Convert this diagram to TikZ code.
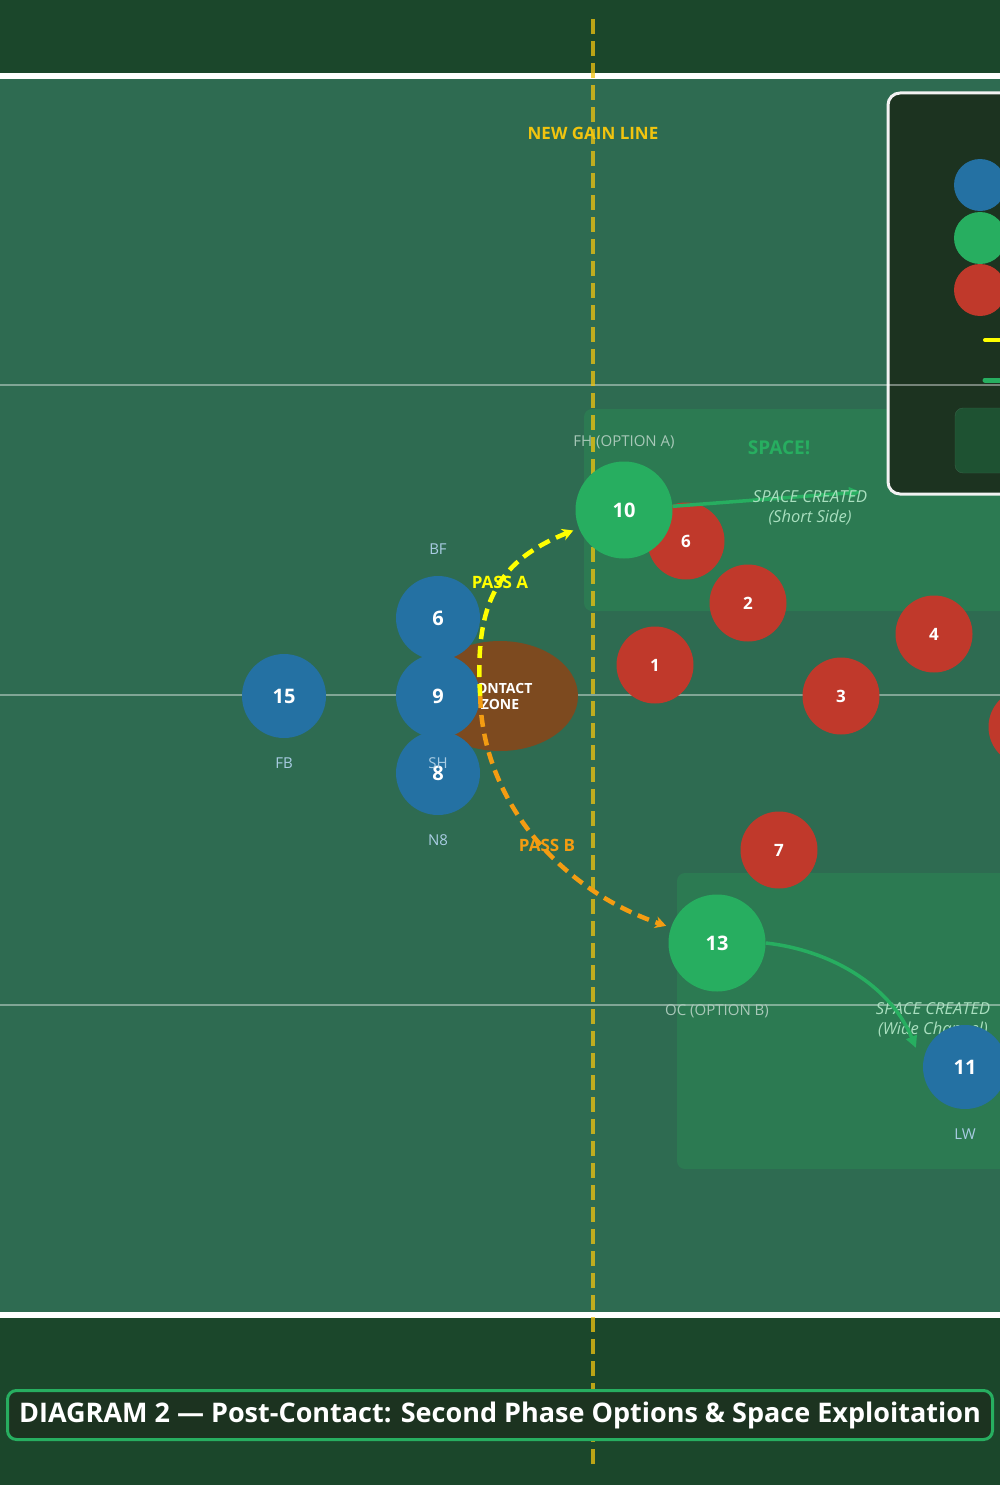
\documentclass[tikz,border=0pt]{standalone}
\usepackage{fontspec}
\setmainfont{Open Sans}
\usetikzlibrary{positioning,arrows.meta,shapes.geometric}

\definecolor{bandgreen}{HTML}{1B472B}
\definecolor{fieldgreen}{HTML}{2E6B51}
\definecolor{zonegreen}{HTML}{2C7A52}
\definecolor{attblue}{HTML}{2471A3}
\definecolor{optgreen}{HTML}{27AE60}
\definecolor{defred}{HTML}{C0392B}
\definecolor{gold}{HTML}{F1C40F}
\definecolor{passyellow}{HTML}{FFFF00}
\definecolor{passorange}{HTML}{F39C12}
\definecolor{contactbrown}{HTML}{7D4A1F}
\definecolor{legendbg}{HTML}{1C3320}
\definecolor{legendkey}{HTML}{1E5232}
\definecolor{lblblue}{HTML}{A9CCE3}
\definecolor{lblgrey}{HTML}{A8C8B8}
\definecolor{spacetxt}{HTML}{A9DFBF}

\tikzset{
  player/.style={circle, inner sep=0pt, text=white, font=\bfseries\fontsize{20}{22}\selectfont},
  att/.style={player, fill=attblue, minimum size=84pt},
  opt/.style={player, fill=optgreen, minimum size=97pt},
  def/.style={player, fill=defred, minimum size=77pt, font=\bfseries\fontsize{17}{19}\selectfont},
  lbl/.style={inner sep=0pt, text height=11pt, text depth=3pt, font=\fontsize{15}{17}\selectfont},
  attlbl/.style={lbl, text=lblblue},
  optlbl/.style={lbl, text=lblgrey},
  pass/.style={line width=4.5pt, dash pattern=on 12pt off 7pt},
  passtxt/.style={font=\bfseries\fontsize{17}{19}\selectfont},
  spacearrow/.style={optgreen, line width=3.5pt, -{Triangle[length=12pt,width=11pt]}},
  spacenote/.style={text=spacetxt, align=center, inner sep=0pt, font=\itshape\fontsize{16.5}{19.5}\selectfont},
  zone/.style={fill=zonegreen, rounded corners=8pt},
  fieldline/.style={white, opacity=0.4, line width=2pt}
}

\begin{document}
\begin{tikzpicture}[x=1pt, y=-1pt, line join=round]

  \useasboundingbox (0,0) rectangle (1000,1485);
  \fill[bandgreen] (0,0) rectangle (1000,1485);
  \fill[fieldgreen] (0,79) rectangle (1000,1312);
  \fill[white] (0,73) rectangle (1000,79);
  \fill[white] (0,1312) rectangle (1000,1318);

  % space zones
  \fill[zone] (584,409) rectangle (1020,611);
  \fill[zone] (677,873) rectangle (1020,1169);

  % legend (cut at the right edge)
  \draw[fill=legendbg, draw=white!90!gray, line width=3pt, rounded corners=12pt] (888,93) rectangle (1030,494);
  \fill[attblue] (980,185) circle (26);
  \fill[optgreen] (980,238) circle (26);
  \fill[defred] (980,290) circle (26);
  \draw[passyellow, line width=4pt, line cap=round] (985,340) -- (1010,340);
  \draw[optgreen, line width=5pt, line cap=round] (985,380) -- (1010,380);
  \draw[fill=legendkey, draw=legendkey!90!white, rounded corners=8pt] (955,408) rectangle (1020,473);

  % field lines
  \foreach \y in {385,695,1005}
    \draw[fieldline] (0,\y) -- (1000,\y);

  % gain line
  \node[text=gold, font=\bfseries\fontsize{17}{19}\selectfont] (gaintxt) at (593,133) {NEW GAIN LINE};
  \draw[gold, opacity=0.75, line width=4pt, dash pattern=on 15pt off 7pt] (593,19) -- (593,1470);

  % contact
  \node[ellipse, fill=contactbrown, minimum width=156pt, minimum height=110pt, inner sep=0pt,
        text=white, align=center, font=\bfseries\fontsize{14}{16}\selectfont] (contact) at (500,696) {CONTACT\\ZONE};

  \node[text=optgreen, font=\bfseries\fontsize{19}{21}\selectfont] (spacetxt) at (779,448) {SPACE!};
  \node[spacenote] (widenote) at (933,1020) {SPACE CREATED\\(Wide Channel)};

  % defenders
  \node[def] (d6) at (686,541) {6};
  \node[def] (d2) at (748,603) {2};
  \node[def] (d1) at (655,665) {1};
  \node[def] (d4) at (934,634) {4};
  \node[def] (d3) at (841,696) {3};
  \node[def] (d5) at (1027,727) {};
  \node[def] (d7) at (779,850) {7};

  % options
  \node[opt] (p10) at (624,510) {10};
  \node[opt] (p13) at (717,943) {13};

  % attack
  \node[att] (p15) at (284,696) {15};
  \node[att] (p6) at (438,618) {6};
  \node[att] (p9) at (438,696) {9};
  \node[att] (p8) at (438,773) {8};
  \node[att] (p11) at (965,1067) {11};

  % player labels
  \node[attlbl, below=19.5pt of p15] (l15) {FB};
  \node[attlbl, above=18.5pt of p6] (l6) {BF};
  \node[attlbl, below=19.5pt of p9] (l9) {SH};
  \node[attlbl, below=19.5pt of p8] (l8) {N8};
  \node[attlbl, below=19.5pt of p11] (l11) {LW};
  \node[optlbl, above=12pt of p10] (l10) {FH (OPTION A)};
  \node[optlbl, below=13pt of p13] (l13) {OC (OPTION B)};

  % passes
  \draw[pass, passyellow, -{Stealth[length=11pt,width=12pt]}, shorten >=6pt]
    (p9.east) .. controls (474,600) and (500,560) .. (p10);
  \draw[pass, passorange, -{Stealth[length=11pt,width=12pt]}, shorten >=5pt]
    (p9.east) .. controls (482,800) and (560,890) .. (p13);
  \node[passtxt, text=passyellow] (passa) at (500,582) {PASS A};
  \node[passtxt, text=passorange] (passb) at (547,845) {PASS B};

  % space created
  \coordinate (shortend) at (861,492);
  \coordinate (wideend) at (916,1048);
  \draw[spacearrow] (p10) -- (shortend);
  \draw[spacearrow] (p13.east) .. controls (830,950) and (890,985) .. (wideend);
  \node[spacenote] (shortnote) at (810,508) {SPACE CREATED\\(Short Side)};

  % title
  \node[fill=legendbg, draw=optgreen, line width=3pt, rounded corners=9pt,
        minimum width=985pt, minimum height=49pt, text=white,
        font=\bfseries\fontsize{27}{30}\selectfont] (title) at (500,1415)
    {DIAGRAM 2 — Post-Contact: Second Phase Options \& Space Exploitation};

\end{tikzpicture}
\end{document}
